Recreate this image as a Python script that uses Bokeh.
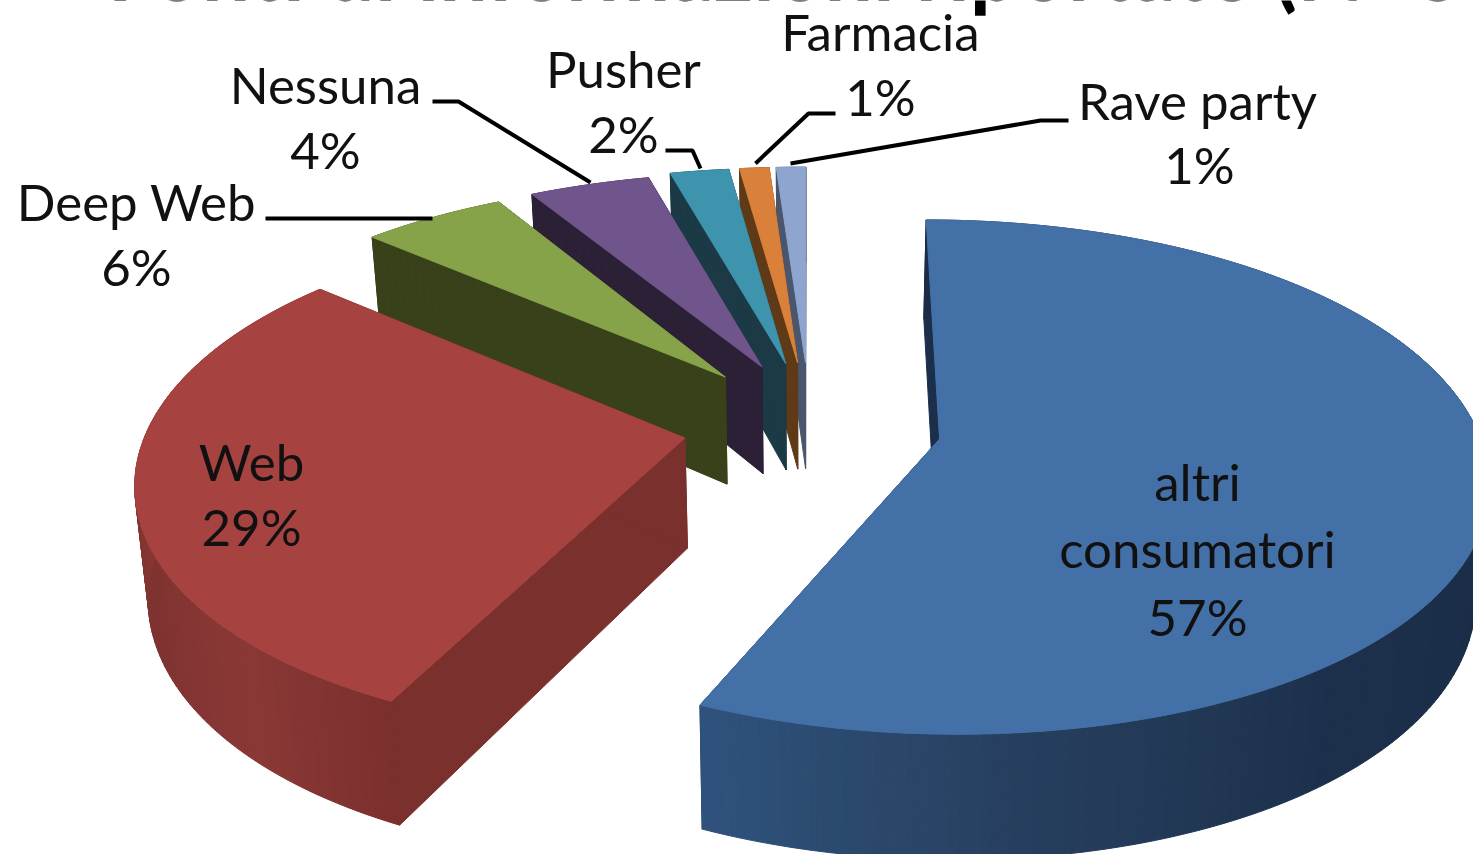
import math
from bokeh.plotting import figure
from bokeh.models import Range1d, ColumnDataSource
from bokeh.core.properties import value
from bokeh.embed import file_html
from bokeh.resources import INLINE

categories = ["altri consumatori", "Web", "Deep Web", "Nessuna", "Pusher", "Farmacia", "Rave party"]
shares = [56.9, 29.8, 5.5, 3.8, 2.0, 1.0, 1.0]
top_colors = ["#4470a8", "#a64240", "#86a349", "#70558d", "#3e93ad", "#d9803a", "#8ea6cf"]
wall_colors = ["#1b2f4b", "#7a302d", "#384119", "#2b2036", "#1b3a45", "#5f3a17", "#4a566d"]

# projection of the exploded 3-D pie
CX, CY, R, P, DEPTH, SHRINK = 809.0, 433.0, 540.0, 0.118, 110.0, 0.98
EX, EY = 0.243, 0.29
EX_BY = {"Web": 0.235, "altri consumatori": 0.246, "Deep Web": 0.26, "Nessuna": 0.25}
EY_BY = {"altri consumatori": 0.24}
APEX_LIFT = {"Web": 0.04, "altri consumatori": 0.03}
RY_BY = {"Deep Web": 0.93, "Nessuna": 0.93, "Pusher": 0.94, "Farmacia": 0.94, "Rave party": 0.94}
TRIM = {"Web": (2.4, 0.0), "Deep Web": (0.8, 1.0), "Nessuna": (-1.2, 0.0)}
FONT = "Lato"
FS = "51px"

def proj(X, Y, Z=0.0):
    s = 1 / (1 + P * Y)
    f = 1 - (1 - SHRINK) * Z
    return CX + X * R * s * f, CY - (254.0 * Y - 30.4 * Y * Y) + Z * DEPTH * s

def mix(a, b, t):
    ca = [int(a[i:i + 2], 16) for i in (1, 3, 5)]
    cb = [int(b[i:i + 2], 16) for i in (1, 3, 5)]
    return "#%02x%02x%02x" % tuple(round(x + (y - x) * t) for x, y in zip(ca, cb))

def grad(stops, th):
    if th <= stops[0][0]:
        return stops[0][1]
    for (t0, c0), (t1, c1) in zip(stops, stops[1:]):
        if th <= t1:
            return mix(c0, c1, (th - t0) / (t1 - t0))
    return stops[-1][1]

arc_gradient = {
    "altri consumatori": [(100, "#1a2c46"), (140, "#1c304c"), (175, "#27405f"), (207, "#30547f")],
    "Web": [(207, "#7b302e"), (225, "#8a3836"), (250, "#7d322f"), (275, "#8a3835")],
}

p = figure(width=1473, height=854, output_backend="svg", toolbar_location=None,
           x_range=Range1d(0, 1473), y_range=Range1d(854, 0), min_border=0)
p.axis.visible = False
p.grid.visible = False
p.outline_line_color = None

# slice angle ranges, clockwise from 12 o'clock
ranges = []
a = 0.0
for v in shares:
    ranges.append((a, a + v * 3.6))
    a += v * 3.6

def draw_slice(i):
    name = categories[i]
    t0, t1 = ranges[i]
    mid = math.radians((t0 + t1) / 2)
    ox = EX_BY.get(name, EX) * math.sin(mid)
    oy = EY_BY.get(name, EY) * math.cos(mid)
    ry = RY_BY.get(name, 1.0)
    ay = oy + APEX_LIFT.get(name, 0.0)
    trim = TRIM.get(name, (0.0, 0.0))
    t0 += trim[0]
    t1 -= trim[1]
    pts = []
    n = max(4, int(t1 - t0))
    for k in range(n + 1):
        th = math.radians(t0 + (t1 - t0) * k / n)
        pts.append((ox + math.sin(th), oy + ry * math.cos(th), t0 + (t1 - t0) * k / n))
    xs, ys, cs = [], [], []
    # radial side walls
    for (X, Y, _) in (pts[0], pts[-1]):
        q = [proj(ox, ay), proj(X, Y), proj(X, Y, 1), proj(ox, ay, 1)]
        xs.append([c[0] for c in q]); ys.append([c[1] for c in q]); cs.append(wall_colors[i])
    # outer wall, shaded piece by piece
    stops = arc_gradient.get(name)
    for u, w in zip(pts, pts[1:]):
        q = [proj(u[0], u[1]), proj(w[0], w[1]), proj(w[0], w[1], 1), proj(u[0], u[1], 1)]
        xs.append([c[0] for c in q]); ys.append([c[1] for c in q])
        cs.append(grad(stops, u[2]) if stops else wall_colors[i])
    # top face
    q = [proj(ox, ay)] + [proj(X, Y) for X, Y, _ in pts]
    xs.append([c[0] for c in q]); ys.append([c[1] for c in q]); cs.append(top_colors[i])
    src = ColumnDataSource(dict(xs=xs, ys=ys, c=cs))
    p.patches("xs", "ys", source=src, fill_color="c", line_color="c", line_width=1)

for i in range(len(shares) - 1, -1, -1):
    draw_slice(i)

# leader lines
leaders = [
    ([265, 432], [218, 218]),
    ([432, 458, 590], [101, 101, 182]),
    ([665, 692, 700], [150, 150, 168]),
    ([835, 808, 755], [113, 113, 163]),
    ([1068, 1040, 790], [120, 120, 163]),
]
for lx, ly in leaders:
    p.line(lx, ly, line_color="#000000", line_width=4)

labels = [
    (["Farmacia", "1%"], [880, 880], [31, 96]),
    (["Nessuna", "4%"], [325, 325], [84, 149]),
    (["Pusher", "2%"], [623, 623], [68, 133]),
    (["Deep Web", "6%"], [136, 136], [201, 266]),
    (["Rave party", "1%"], [1197, 1199], [100, 164]),
    (["Web", "29%"], [251, 251], [461, 526]),
    (["altri", "consumatori", "57%"], [1197, 1197, 1197], [481, 548, 616]),
]
for t, lx, ly in labels:
    p.text(lx, ly, text=t, text_font=value(FONT), text_font_size=value(FS),
           text_align="center", text_baseline="middle", text_color="#111111")

p.text([107], [3], text=["Fonti di informazioni riportate (N=30"], text_font=value("Lato"),
       text_font_size=value("86px"), text_font_style="bold", text_align="left",
       text_baseline="alphabetic", text_color="#000000", y_offset=-36)

open("out.html", "w").write(file_html(p, INLINE))
